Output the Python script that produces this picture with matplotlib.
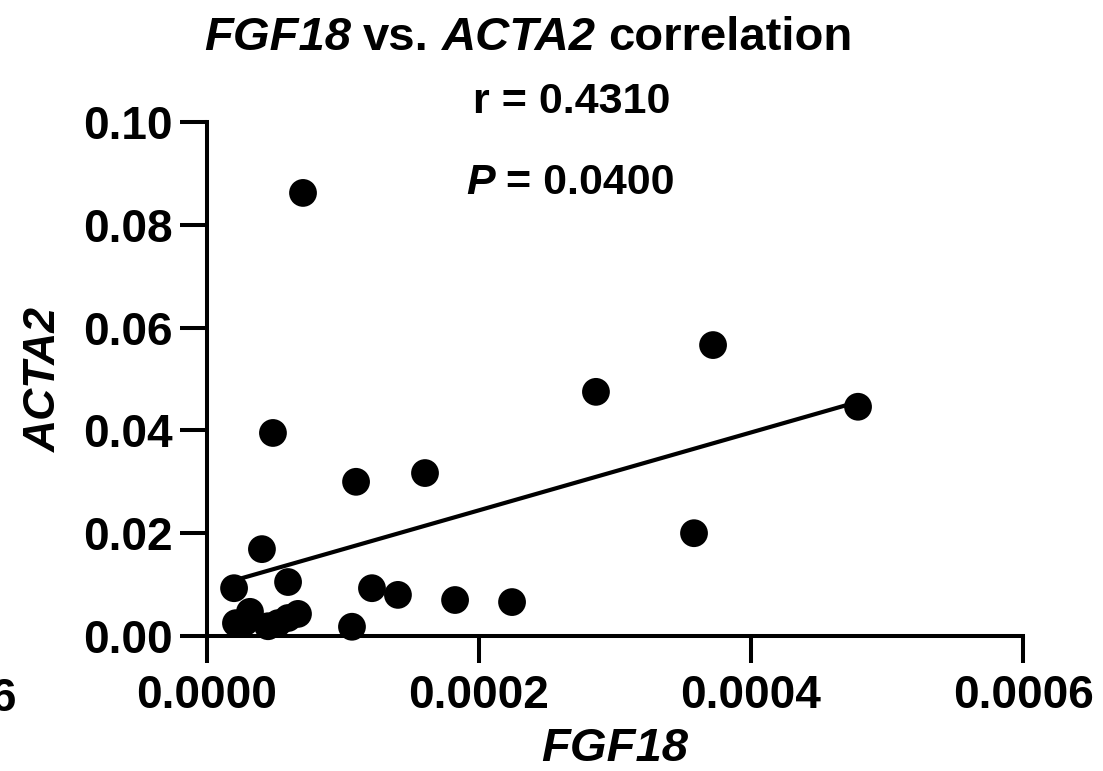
import numpy as np
import matplotlib
matplotlib.use("Agg")
import matplotlib.pyplot as plt
from matplotlib.offsetbox import TextArea, HPacker, AnnotationBbox

# ---- data ----
fgf18 = [7.06e-5, 4.85e-5, 1.096e-4, 1.603e-4, 2.860e-4, 3.721e-4, 4.787e-4,
         3.581e-4, 4.04e-5, 1.99e-5, 5.96e-5, 3.16e-5, 2.13e-5, 5.22e-5,
         6.69e-5, 1.066e-4, 1.213e-4, 1.404e-4, 1.824e-4, 2.243e-4,
         4.49e-5, 5.96e-5, 2.79e-5]
acta2 = [0.0862, 0.0395, 0.0300, 0.0317, 0.0475, 0.0566, 0.0446,
         0.0200, 0.0169, 0.0093, 0.0105, 0.0047, 0.0025, 0.0025,
         0.0043, 0.0018, 0.0093, 0.0080, 0.0070, 0.0066,
         0.0019, 0.0035, 0.0027]
x_ticks = [0.0, 0.0002, 0.0004, 0.0006]
x_ticklabels = ["0.0000", "0.0002", "0.0004", "0.0006"]
y_ticks = [0.00, 0.02, 0.04, 0.06, 0.08, 0.10]
y_ticklabels = ["0.00", "0.02", "0.04", "0.06", "0.08", "0.10"]
gene_x = "FGF18"
gene_y = "ACTA2"
r_text = "r = 0.4310"
p_value = "0.0400"

plt.rcParams['font.family'] = ['Liberation Sans', 'DejaVu Sans']
plt.rcParams['font.weight'] = 'bold'

W, H = 1103, 771
fig = plt.figure(figsize=(W / 100, H / 100), dpi=100)
ax = fig.add_axes([207 / W, 1 - 636 / H, (1023 - 207) / W, (636 - 122) / H])

x = np.array(fgf18)
y = np.array(acta2)
ax.scatter(x, y, s=400, color='black', edgecolors='none', zorder=3, clip_on=False)

slope, intercept = np.polyfit(x, y, 1)
xf = np.array([x.min(), x.max()])
ax.plot(xf, slope * xf + intercept, color='black', lw=3.0, zorder=2,
        solid_capstyle='butt', clip_on=False)

ax.set_xlim(0, 0.0006)
ax.set_ylim(0, 0.10)
ax.set_xticks(x_ticks)
ax.set_xticklabels(x_ticklabels)
ax.set_yticks(y_ticks)
ax.set_yticklabels(y_ticklabels)

for s in ['top', 'right']:
    ax.spines[s].set_visible(False)
for s in ['left', 'bottom']:
    ax.spines[s].set_linewidth(2.9)
ax.tick_params(axis='both', which='major', length=19.5, width=2.9, labelsize=33)
ax.tick_params(axis='x', pad=8)
ax.tick_params(axis='y', pad=5)
for lab in ax.get_xticklabels() + ax.get_yticklabels():
    lab.set_fontweight('bold')

ax.set_xlabel(gene_x, fontsize=34, fontstyle='italic', fontweight='bold', labelpad=6)
ax.set_ylabel(gene_y, fontsize=32, fontstyle='italic', fontweight='bold', labelpad=13)


def rich_line(parts, size, xy_px, sep):
    areas = []
    for txt, style in parts:
        areas.append(TextArea(txt, textprops=dict(fontsize=size, fontweight='bold',
                                                  fontstyle=style, color='black')))
    pack = HPacker(children=areas, align='baseline', pad=0, sep=sep)
    ab = AnnotationBbox(pack, xy_px, xycoords='figure pixels',
                        box_alignment=(0.5, 0.0), frameon=False, pad=0)
    fig.add_artist(ab)


# title with italic gene names
rich_line([(gene_x, 'italic'), ('vs.', 'normal'), (gene_y, 'italic'),
           ('correlation', 'normal')], 34, (528, H - 60), sep=9)
# r and P annotations
fig.text(572 / W, 1 - 113 / H, r_text, ha='center', va='baseline',
         fontsize=31, fontweight='bold')
rich_line([('P', 'italic'), ('= ' + p_value, 'normal')], 31, (570, H - 203), sep=8)

# cut-off label from neighbouring panel at the left edge
fig.text(16 / W, 1 - 711 / H, '6', ha='right', va='baseline', fontsize=33, fontweight='bold')

fig.savefig('out.png', dpi=100)
